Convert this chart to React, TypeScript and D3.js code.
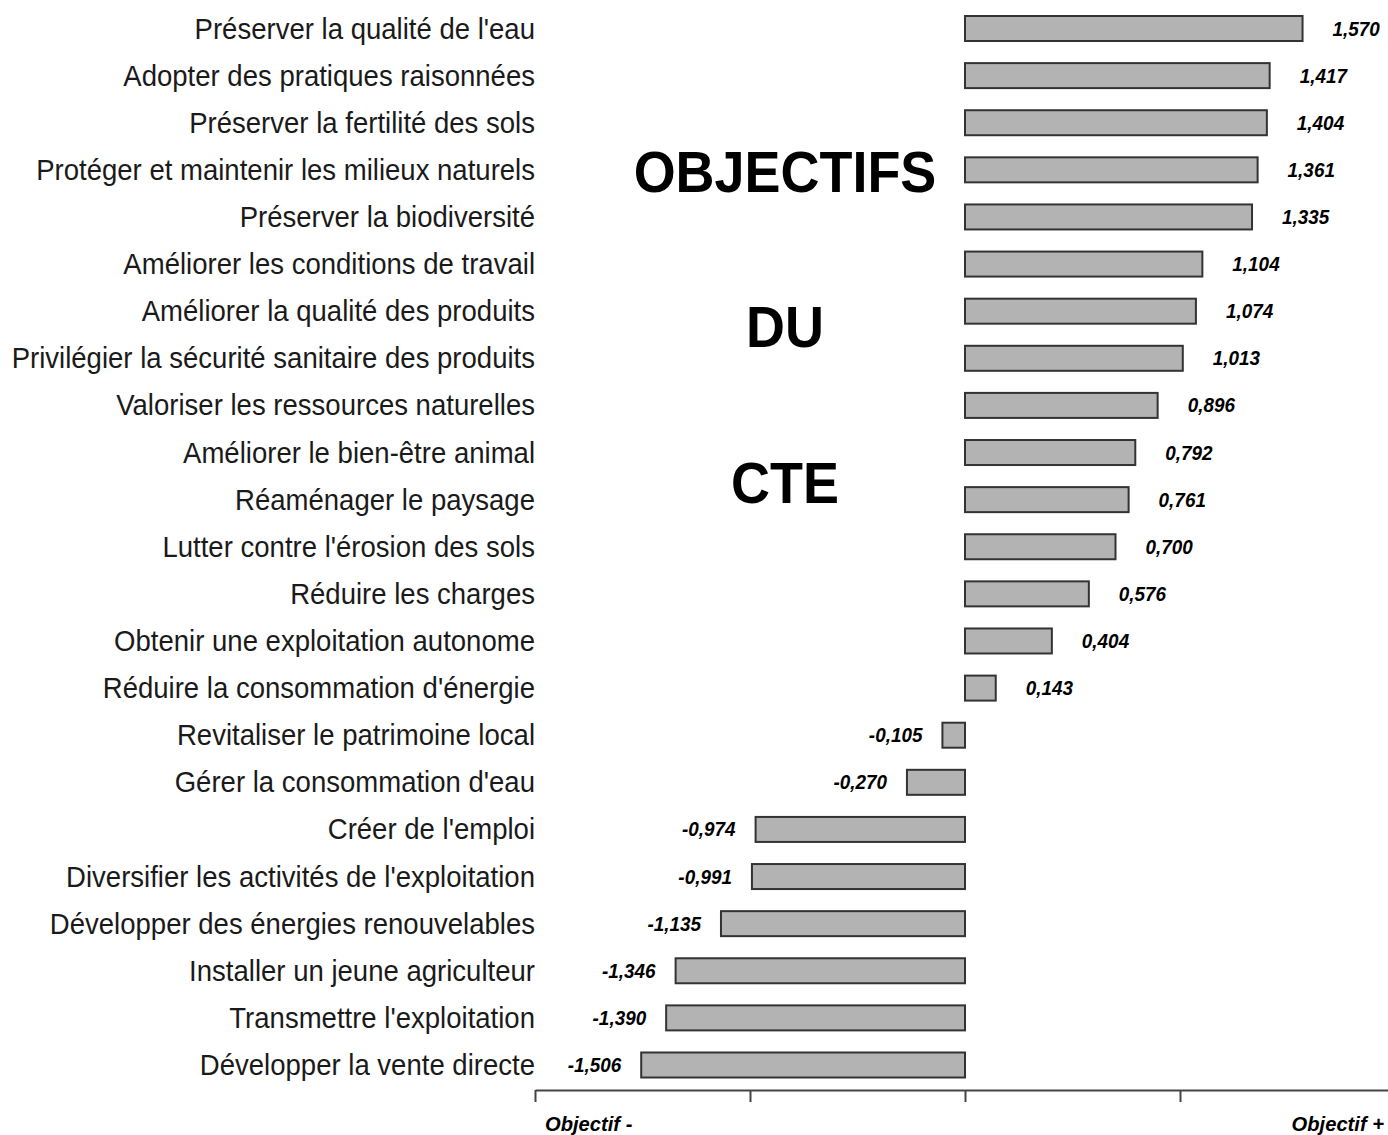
import React, { useRef, useEffect } from 'react';
import * as d3 from 'd3';

const CATEGORIES = [
    "Préserver la qualité de l'eau",
    'Adopter des pratiques raisonnées',
    'Préserver la fertilité des sols',
    'Protéger et maintenir les milieux naturels',
    'Préserver la biodiversité',
    'Améliorer les conditions de travail',
    'Améliorer la qualité des produits',
    'Privilégier la sécurité sanitaire des produits',
    'Valoriser les ressources naturelles',
    'Améliorer le bien-être animal',
    'Réaménager le paysage',
    "Lutter contre l'érosion des sols",
    'Réduire les charges',
    'Obtenir une exploitation autonome',
    "Réduire la consommation d'énergie",
    'Revitaliser le patrimoine local',
    "Gérer la consommation d'eau",
    "Créer de l'emploi",
    "Diversifier les activités de l'exploitation",
    'Développer des énergies renouvelables',
    'Installer un jeune agriculteur',
    "Transmettre l'exploitation",
    'Développer la vente directe',
];

const VALUES = [
    1.570, 1.417, 1.404, 1.361, 1.335, 1.104, 1.074, 1.013, 0.896, 0.792, 0.761, 0.700,
    0.576, 0.404, 0.143, -0.105, -0.270, -0.974, -0.991, -1.135, -1.346, -1.390, -1.506,
];

const TICKS = [-2, -1, 0, 1, 2];
const TITLE_LINES = ['OBJECTIFS', 'DU', 'CTE'];

const W = 1388;
const H = 1135;

const fmt = (v: number) => (v < 0 ? '-' : '') + Math.abs(v).toFixed(3).replace('.', ',');

const App = () => {
    const svgRef = useRef<SVGSVGElement>(null);

    useEffect(() => {
        if (!svgRef.current) return;
        const svg = d3.select(svgRef.current);
        svg.selectAll('*').remove();

        const x = d3.scaleLinear().domain([-2, 2]).range([535, 1395]);
        const y = d3.scalePoint<string>().domain(CATEGORIES).range([28.5, 1065]);
        const BH = 25;
        const rows = CATEGORIES.map((c, i) => ({ c, v: VALUES[i] }));

        // Bars
        svg.append('g').selectAll('rect').data(rows).enter().append('rect')
            .attr('x', d => x(Math.min(0, d.v)))
            .attr('y', d => (y(d.c) as number) - BH / 2)
            .attr('width', d => Math.abs(x(d.v) - x(0)))
            .attr('height', BH)
            .attr('fill', '#b3b3b3')
            .attr('stroke', '#333')
            .attr('stroke-width', 2);

        // Value labels
        svg.append('g').selectAll('text').data(rows).enter().append('text')
            .attr('transform', d => {
                const px = d.v >= 0 ? x(d.v) + 30 : x(d.v) - 20;
                return `translate(${px},${(y(d.c) as number) + 7}) scale(0.9,1)`;
            })
            .attr('text-anchor', d => (d.v >= 0 ? 'start' : 'end'))
            .attr('font-family', 'Liberation Sans, Arial, sans-serif')
            .attr('font-size', 21)
            .attr('font-weight', 'bold')
            .attr('font-style', 'italic')
            .attr('fill', '#000')
            .text(d => fmt(d.v));

        // Category labels
        svg.append('g').selectAll('text').data(rows).enter().append('text')
            .attr('transform', d => `translate(535,${(y(d.c) as number) + 10}) scale(0.95,1)`)
            .attr('text-anchor', 'end')
            .attr('font-family', 'Liberation Sans, Arial, sans-serif')
            .attr('font-size', 29)
            .attr('fill', '#1a1a1a')
            .text(d => d.c);

        // Axis
        const axisY = 1090;
        svg.append('g')
            .attr('transform', `translate(0,${axisY})`)
            .call(d3.axisBottom(x).tickValues(TICKS).tickSize(12).tickSizeOuter(0).tickFormat(() => ''))
            .call(s => s.select('.domain').attr('stroke', '#444').attr('stroke-width', 2))
            .call(s => s.selectAll('.tick line').attr('stroke', '#444').attr('stroke-width', 2));

        svg.append('text')
            .attr('transform', `translate(545,1131) scale(0.96,1)`)
            .attr('font-family', 'Liberation Sans, Arial, sans-serif')
            .attr('font-size', 21)
            .attr('font-weight', 'bold')
            .attr('font-style', 'italic')
            .text('Objectif -');
        svg.append('text')
            .attr('transform', `translate(1384,1131) scale(0.96,1)`)
            .attr('text-anchor', 'end')
            .attr('font-family', 'Liberation Sans, Arial, sans-serif')
            .attr('font-size', 21)
            .attr('font-weight', 'bold')
            .attr('font-style', 'italic')
            .text('Objectif +');

        // Big title
        const titleY = [192, 347, 503];
        svg.append('g').selectAll('text').data(TITLE_LINES).enter().append('text')
            .attr('transform', (_, i) => `translate(785,${titleY[i]}) scale(0.93,1)`)
            .attr('text-anchor', 'middle')
            .attr('font-family', 'Liberation Sans, Arial, sans-serif')
            .attr('font-size', 58)
            .attr('font-weight', 'bold')
            .attr('fill', '#000')
            .text(d => d);
    }, []);

    return (
        <svg
            ref={svgRef}
            width={W}
            height={H}
            style={{ position: 'absolute', left: 0, top: 0, background: '#fff' }}
        />
    );
};

export default App;
